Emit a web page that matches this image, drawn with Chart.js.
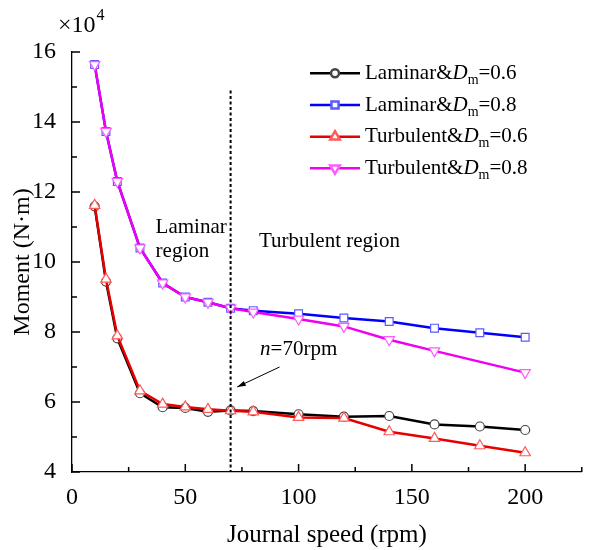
<!DOCTYPE html>
<html>
<head>
<meta charset="utf-8">
<script src="https://cdn.jsdelivr.net/npm/chart.js@4.4.1/dist/chart.umd.min.js"></script>
<style>
  html, body { margin: 0; padding: 0; background: #fff; }
  #wrap { width: 589px; height: 550px; }
</style>
</head>
<body>
<div id="wrap"><canvas id="momentChart" width="589" height="550"></canvas></div>
<script>
// Moment vs journal speed, values in units of 1e4 N·m
const speeds = [10, 15, 20, 30, 40, 50, 60, 70, 80, 100, 120, 140, 160, 180, 200];
const speedsTurb08 = [10, 15, 20, 30, 40, 50, 60, 70, 80, 100, 120, 140, 160, 200];

const laminar06 = [11.59, 9.44, 7.82, 6.25, 5.85, 5.83, 5.72, 5.76, 5.74, 5.65, 5.58, 5.60, 5.36, 5.30, 5.20];
const laminar08 = [15.64, 13.73, 12.30, 10.40, 9.40, 9.00, 8.85, 8.68, 8.61, 8.52, 8.40, 8.30, 8.11, 7.98, 7.85];
const turbulent06 = [11.62, 9.51, 7.89, 6.32, 5.94, 5.86, 5.79, 5.75, 5.72, 5.56, 5.54, 5.15, 4.96, 4.75, 4.55];
const turbulent08 = [15.64, 13.73, 12.30, 10.40, 9.40, 9.00, 8.85, 8.68, 8.57, 8.37, 8.16, 7.78, 7.46, 6.84];

const xMajorTicks = [0, 50, 100, 150, 200];
const xMinorTicks = [25, 75, 125, 175, 225];
const yMajorTicks = [4, 6, 8, 10, 12, 14, 16];
const yMinorTicks = [5, 7, 9, 11, 13, 15];

const transitionSpeed = 70;

const SERIF = '"Liberation Serif", "Times New Roman", serif';

function toPoints(xs, ys) {
    return xs.map((x, i) => ({ x: x, y: ys[i] }));
}

const seriesDefs = [
    { name: 'Laminar&', sub: '=0.6', data: toPoints(speeds, laminar06), color: '#000000', marker: '#444444', style: 'circle', radius: 4.5, rotation: 0, order: 3 },
    { name: 'Laminar&', sub: '=0.8', data: toPoints(speeds, laminar08), color: '#0000ff', marker: '#5a5aff', style: 'rect', radius: 5.5, rotation: 0, order: 2 },
    { name: 'Turbulent&', sub: '=0.6', data: toPoints(speeds, turbulent06), color: '#e60000', marker: '#ff5a5a', style: 'triangle', radius: 6, rotation: 0, order: 1 },
    { name: 'Turbulent&', sub: '=0.8', data: toPoints(speedsTurb08, turbulent08), color: '#f000f0', marker: '#ff5aff', style: 'triangle', radius: 6, rotation: 180, order: 0 }
];

// tick marks pointing into the plot area
const innerTicks = {
    id: 'innerTicks',
    afterDraw(chart) {
        const c = chart.ctx;
        const xs = chart.scales.x;
        const ys = chart.scales.y;
        const area = chart.chartArea;
        c.save();
        c.strokeStyle = '#000000';
        c.lineWidth = 1.5;
        c.beginPath();
        xMajorTicks.forEach(v => { const px = xs.getPixelForValue(v); c.moveTo(px, area.bottom); c.lineTo(px, area.bottom - 8); });
        xMinorTicks.forEach(v => { const px = xs.getPixelForValue(v); c.moveTo(px, area.bottom); c.lineTo(px, area.bottom - 5); });
        yMajorTicks.forEach(v => { const py = ys.getPixelForValue(v); c.moveTo(area.left, py); c.lineTo(area.left + 8, py); });
        yMinorTicks.forEach(v => { const py = ys.getPixelForValue(v); c.moveTo(area.left, py); c.lineTo(area.left + 5, py); });
        c.stroke();
        c.restore();
    }
};

// dotted transition line, annotations and legend
const decorations = {
    id: 'decorations',
    afterDraw(chart) {
        const c = chart.ctx;
        const xs = chart.scales.x;
        const ys = chart.scales.y;
        const area = chart.chartArea;
        c.save();

        // dotted line at n = 70 rpm
        const lx = xs.getPixelForValue(transitionSpeed);
        c.strokeStyle = '#000';
        c.setLineDash([3, 2.5]);
        c.lineWidth = 2;
        c.beginPath();
        c.moveTo(lx, ys.getPixelForValue(14.9));
        c.lineTo(lx, area.bottom);
        c.stroke();
        c.setLineDash([]);

        // region labels
        c.fillStyle = '#000';
        c.font = '21px ' + SERIF;
        c.textBaseline = 'middle';
        c.textAlign = 'left';
        c.fillText('Laminar', xs.getPixelForValue(36.9), ys.getPixelForValue(11.0));
        c.fillText('region', xs.getPixelForValue(36.9), ys.getPixelForValue(10.29));
        c.fillText('Turbulent region', xs.getPixelForValue(82.5), ys.getPixelForValue(10.59));

        // n=70rpm with arrow
        let tx = xs.getPixelForValue(83);
        const ty = ys.getPixelForValue(7.49);
        c.font = 'italic 21px ' + SERIF;
        c.fillText('n', tx, ty);
        tx += c.measureText('n').width;
        c.font = '21px ' + SERIF;
        c.fillText('=70rpm', tx, ty);

        const ax0 = xs.getPixelForValue(91.6), ay0 = ys.getPixelForValue(7.0);
        const ax1 = xs.getPixelForValue(72.9), ay1 = ys.getPixelForValue(6.43);
        c.lineWidth = 1;
        c.beginPath();
        c.moveTo(ax0, ay0);
        c.lineTo(ax1, ay1);
        c.stroke();
        const ang = Math.atan2(ay1 - ay0, ax1 - ax0);
        c.beginPath();
        c.moveTo(ax1, ay1);
        c.lineTo(ax1 - 9 * Math.cos(ang - 0.3), ay1 - 9 * Math.sin(ang - 0.3));
        c.lineTo(ax1 - 9 * Math.cos(ang + 0.3), ay1 - 9 * Math.sin(ang + 0.3));
        c.closePath();
        c.fill();

        // x10^4 multiplier above the y axis
        c.textBaseline = 'alphabetic';
        c.font = '24px ' + SERIF;
        c.fillText('\u00d710', 58, 32);
        const mw = c.measureText('\u00d710').width;
        c.font = '16px ' + SERIF;
        c.fillText('4', 58 + mw + 1, 20);

        // legend
        const rowY = [73.3, 105, 136.7, 168.3];
        seriesDefs.forEach((s, i) => {
            const y = rowY[i];
            c.strokeStyle = s.color;
            c.lineWidth = 2.5;
            c.beginPath();
            c.moveTo(310, y);
            c.lineTo(360, y);
            c.stroke();
            c.fillStyle = '#fff';
            c.strokeStyle = s.marker;
            Chart.helpers.drawPoint(c, { pointStyle: s.style, radius: s.radius - 0.5, rotation: s.rotation, borderWidth: 1.2 }, 335, y);

            c.fillStyle = '#000';
            c.textBaseline = 'middle';
            let x = 365;
            c.font = '21px ' + SERIF;
            c.fillText(s.name, x, y);
            x += c.measureText(s.name).width;
            c.font = 'italic 21px ' + SERIF;
            c.fillText('D', x, y);
            x += c.measureText('D').width;
            c.font = '14px ' + SERIF;
            c.fillText('m', x, y + 7);
            x += c.measureText('m').width;
            c.font = '21px ' + SERIF;
            c.fillText(s.sub, x, y);
        });

        c.restore();
    }
};

const canvas = document.getElementById('momentChart');
new Chart(canvas, {
    type: 'line',
    data: {
        datasets: seriesDefs.map(s => ({
            label: s.name + 'Dm' + s.sub,
            data: s.data,
            borderColor: s.color,
            borderWidth: 2.5,
            pointStyle: s.style,
            pointRadius: s.radius,
            pointRotation: s.rotation,
            pointBackgroundColor: '#ffffff',
            pointBorderColor: s.marker,
            pointBorderWidth: 1.2,
            tension: 0,
            order: s.order
        }))
    },
    options: {
        responsive: false,
        animation: false,
        layout: { padding: { top: 52, right: 0, left: 0, bottom: 0 } },
        plugins: {
            legend: { display: false },
            tooltip: { enabled: false }
        },
        scales: {
            x: {
                type: 'linear',
                min: 0,
                max: 225,
                grid: { display: false },
                border: { display: true, color: '#000', width: 1.3 },
                ticks: {
                    stepSize: 25,
                    autoSkip: false,
                    maxRotation: 0,
                    padding: 3,
                    color: '#000',
                    font: { family: SERIF, size: 24 },
                    callback: v => (v % 50 === 0 && v <= 200 ? String(v) : '')
                },
                title: {
                    display: true,
                    text: 'Journal speed (rpm)',
                    color: '#000',
                    font: { family: SERIF, size: 25 },
                    padding: { top: 6, bottom: 0 }
                },
                afterFit: scale => { scale.height = 78; }
            },
            y: {
                min: 4,
                max: 16,
                grid: { display: false },
                border: { display: true, color: '#000', width: 1.3 },
                ticks: {
                    stepSize: 2,
                    padding: 8,
                    color: '#000',
                    font: { family: SERIF, size: 24 }
                },
                title: {
                    display: true,
                    text: 'Moment (N\u00b7m)',
                    color: '#000',
                    font: { family: SERIF, size: 24 },
                    padding: { top: 8, bottom: 4 }
                },
                afterFit: scale => { scale.width = 72; }
            }
        }
    },
    plugins: [innerTicks, decorations]
});
</script>
</body>
</html>
